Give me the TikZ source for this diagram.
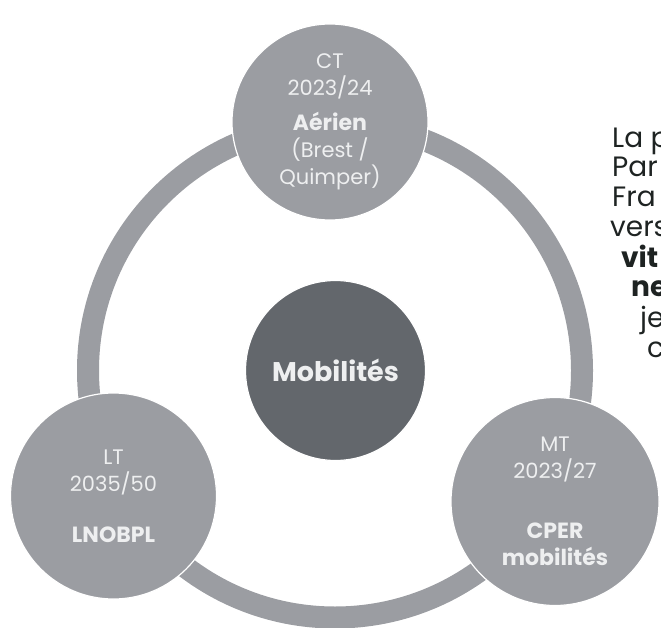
\documentclass[tikz,border=0pt]{standalone}
\usepackage{fontspec}
\setmainfont{Poppins}
\definecolor{phasegray}{HTML}{9B9DA2}
\definecolor{coregray}{HTML}{63676C}
\definecolor{phasetext}{HTML}{EEEFF0}
\definecolor{prosecol}{HTML}{1E2322}
\newcommand{\phasebf}[1]{{\bfseries\fontsize{22}{27}\selectfont #1}}

\begin{document}
\begin{tikzpicture}[x=1pt,y=-1pt,
  phase/.style={circle,fill=phasegray,draw=white,line width=1.2pt,text=phasetext,
    align=center,inner sep=0pt,font=\fontsize{21}{27}\selectfont},
  prose/.style={anchor=base west,inner sep=0pt,text=prosecol,font=\fontsize{28}{30}\selectfont},
  prosebold/.style={prose,font=\bfseries\fontsize{28}{30}\selectfont}]
\useasboundingbox (0,0) rectangle (661,628);
\clip (0,0) rectangle (661,628);

% ring behind the three phases
\coordinate (hub) at (335,370.5);
\draw[phasegray,line width=22pt] (hub) circle (247pt);

% phases
\node[phase,minimum size=196pt] (ct) at (330,122)
  {CT\\2023/24\\[8pt]\phasebf{Aérien}\\(Brest /\\Quimper)};
\node[phase,minimum size=206pt] (lt) at (113.5,496)
  {LT\\2035/50\\[24pt]\phasebf{LNOBPL}};
\node[phase,minimum size=208pt] (mt) at (555,501.5)
  {MT\\2023/27\\[33pt]\phasebf{CPER}\\\phasebf{mobilités}};

% centre
\node[circle,fill=coregray,draw=white,line width=1.2pt,minimum size=180pt,
  text=phasetext,font=\bfseries\fontsize{27}{30}\selectfont] (core) at (335.5,370.5) {Mobilités};

% text cut by the right edge
\node[prose] (p1) at (612,148) {La p};
\node[prose] (p2) at (612,177) {Par};
\node[prose] (p3) at (612,207) {Fra};
\node[prose] (p4) at (610,237) {vers};
\node[prosebold] (p5) at (621,268) {vit};
\node[prosebold] (p6) at (631,297) {ne};
\node[prose] (p7) at (640,327) {je};
\node[prose] (p8) at (647,357) {c};
\end{tikzpicture}
\end{document}
